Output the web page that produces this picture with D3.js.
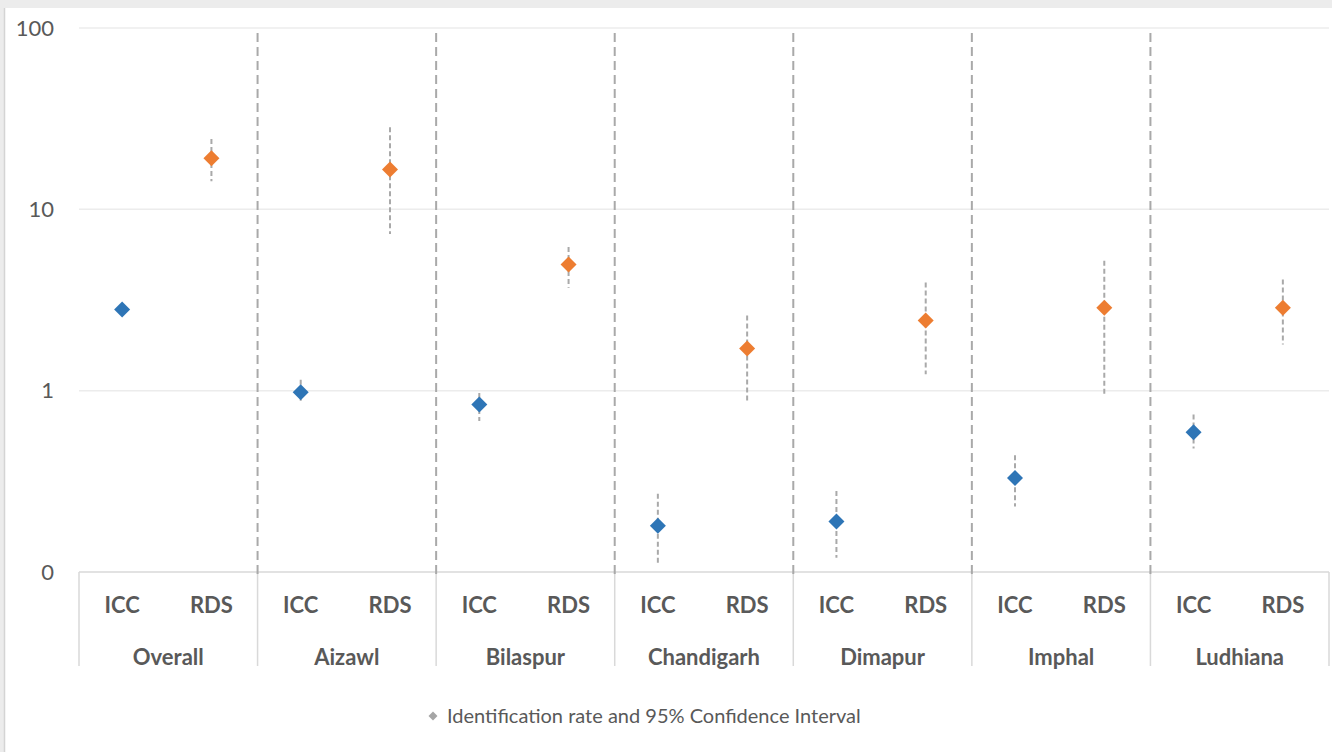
<!DOCTYPE html>
<meta charset="utf-8">
<style>
body {
  margin: 0;
  background: #ececec;
  font-family: Lato, "Noto Sans", sans-serif;
}
svg {
  display: block;
}
.tick-label {
  fill: #595959;
  font-size: 22px;
}
.legend-text {
  fill: #595959;
  font-size: 20px;
}
.cat-label {
  fill: #595959;
  font-size: 22px;
  font-weight: bold;
}
</style>
<body>
<script src="https://cdn.jsdelivr.net/npm/d3@7"></script>
<script>

var width = 1332,
    height = 752;

var groups = ["Overall", "Aizawl", "Bilaspur", "Chandigarh", "Dimapur", "Imphal", "Ludhiana"];
var methods = ["ICC", "RDS"];

// identification rate with 95% CI, per group
var iccRate  = [2.8, 0.98, 0.84, 0.18, 0.19, 0.33, 0.59];
var iccLower = [2.6, 0.86, 0.68, 0.11, 0.12, 0.23, 0.48];
var iccUpper = [3.0, 1.15, 0.97, 0.27, 0.28, 0.44, 0.74];

var rdsRate  = [19.1, 16.6, 4.97, 1.71, 2.44, 2.87, 2.87];
var rdsLower = [14.3, 7.3, 3.7, 0.85, 1.23, 0.95, 1.80];
var rdsUpper = [24.4, 28.4, 6.2, 2.6, 3.95, 5.2, 4.1];

var yTicks = [0.1, 1, 10, 100];
var yTickLabels = ["0", "1", "10", "100"];

var legendLabel = "Identification rate and 95% Confidence Interval";

var colors = {ICC: "#2e75b6", RDS: "#ed7d31"};

var plotLeft = 79, plotRight = 1329, plotTop = 28, plotBottom = 572;

var svg = d3.select("body").append("svg")
    .attr("width", width)
    .attr("height", height);

// chart frame
svg.append("rect")
    .attr("x", 4).attr("y", 8)
    .attr("width", width - 4).attr("height", height - 8)
    .attr("fill", "#fff");
svg.append("line")
    .attr("x1", 4.5).attr("x2", 4.5)
    .attr("y1", 8).attr("y2", height)
    .attr("stroke", "#d4d4d4").attr("stroke-width", 1.5);

var y = d3.scaleLog()
    .domain([0.1, 100])
    .range([plotBottom, plotTop]);

var xGroup = d3.scaleBand()
    .domain(groups)
    .range([plotLeft, plotRight]);

var xMethod = d3.scaleBand()
    .domain(methods)
    .range([0, xGroup.bandwidth()]);

function cx(g, m) { return xGroup(g) + xMethod(m) + xMethod.bandwidth() / 2 - 1.5; }

var data = [];
groups.forEach(function(g, i) {
  data.push({group: g, method: "ICC", rate: iccRate[i], lo: iccLower[i], hi: iccUpper[i]});
  data.push({group: g, method: "RDS", rate: rdsRate[i], lo: rdsLower[i], hi: rdsUpper[i]});
});

// gridlines
svg.selectAll(".grid")
    .data(yTicks.slice(1))
  .enter().append("line")
    .attr("class", "grid")
    .attr("x1", plotLeft).attr("x2", plotRight)
    .attr("y1", function(d) { return y(d); })
    .attr("y2", function(d) { return y(d); })
    .attr("stroke", "#ececec")
    .attr("stroke-width", 1.5);

svg.selectAll(".tick-label")
    .data(yTicks)
  .enter().append("text")
    .attr("class", "tick-label")
    .attr("x", 54)
    .attr("y", function(d) { return y(d); })
    .attr("dy", "0.35em")
    .attr("text-anchor", "end")
    .text(function(d, i) { return yTickLabels[i]; });

// category axis box
svg.append("line")
    .attr("x1", plotLeft).attr("x2", plotRight)
    .attr("y1", plotBottom).attr("y2", plotBottom)
    .attr("stroke", "#d9d9d9").attr("stroke-width", 1.5);

var bounds = groups.map(function(g) { return xGroup(g); }).concat([xGroup.range()[1]]);

svg.selectAll(".box")
    .data(bounds)
  .enter().append("line")
    .attr("class", "box")
    .attr("x1", function(d) { return d; })
    .attr("x2", function(d) { return d; })
    .attr("y1", plotBottom).attr("y2", 666)
    .attr("stroke", "#d9d9d9").attr("stroke-width", 1.5);

// dashed separators between groups
svg.selectAll(".sep")
    .data(bounds.slice(1, -1))
  .enter().append("line")
    .attr("class", "sep")
    .attr("x1", function(d) { return d; })
    .attr("x2", function(d) { return d; })
    .attr("y1", 33).attr("y2", 576)
    .attr("stroke", "#a9a9a9")
    .attr("stroke-width", 2)
    .attr("stroke-dasharray", "9,5");

svg.selectAll(".method-label")
    .data(data)
  .enter().append("text")
    .attr("class", "cat-label")
    .attr("x", function(d) { return cx(d.group, d.method); })
    .attr("y", 605)
    .attr("dy", "0.35em")
    .attr("text-anchor", "middle")
    .text(function(d) { return d.method; });

svg.selectAll(".group-label")
    .data(groups)
  .enter().append("text")
    .attr("class", "cat-label")
    .attr("x", function(d) { return xGroup(d) + xGroup.bandwidth() / 2; })
    .attr("y", 657)
    .attr("dy", "0.35em")
    .attr("text-anchor", "middle")
    .text(function(d) { return d; });

// error bars
svg.selectAll(".err")
    .data(data)
  .enter().append("line")
    .attr("class", "err")
    .attr("x1", function(d) { return cx(d.group, d.method); })
    .attr("x2", function(d) { return cx(d.group, d.method); })
    .attr("y1", function(d) { return y(d.hi); })
    .attr("y2", function(d) { return y(d.lo); })
    .attr("stroke", "#a9a9a9")
    .attr("stroke-width", 2)
    .attr("stroke-dasharray", "5,3");

var diamond = d3.symbol().type(d3.symbolSquare).size(128);

svg.selectAll(".point")
    .data(data)
  .enter().append("path")
    .attr("class", "point")
    .attr("d", diamond)
    .attr("transform", function(d) {
      return "translate(" + cx(d.group, d.method) + "," + y(d.rate) + ") rotate(45)";
    })
    .attr("fill", function(d) { return colors[d.method]; });

// legend
var legend = svg.append("g")
    .attr("transform", "translate(433,716)");

legend.append("path")
    .attr("d", d3.symbol().type(d3.symbolSquare).size(40))
    .attr("transform", "rotate(45)")
    .attr("fill", "#a5a5a5");

legend.append("text")
    .attr("class", "legend-text")
    .attr("x", 14)
    .attr("dy", "0.35em")
    .text(legendLabel);

</script>
